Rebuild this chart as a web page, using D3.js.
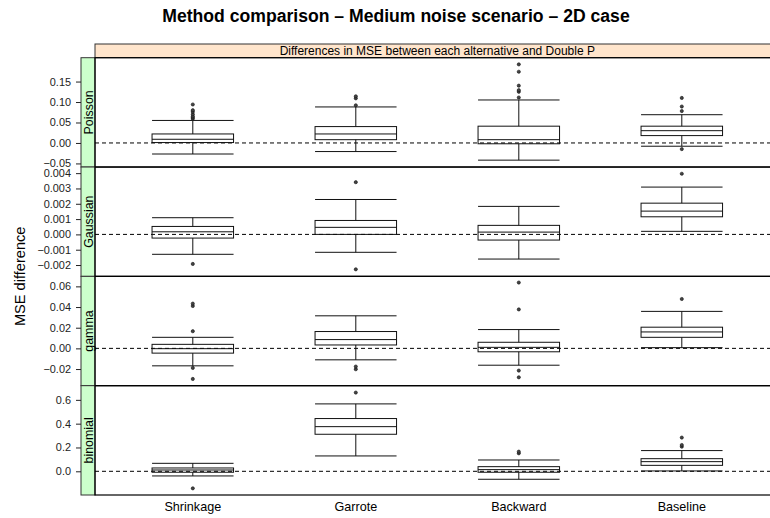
<!DOCTYPE html>
<html>
<head>
<meta charset="utf-8">
<script src="https://cdn.jsdelivr.net/npm/d3@7"></script>
<style>
  html, body { margin: 0; padding: 0; background: #fff; }
  svg { display: block; font-family: "Liberation Sans", Arial, Helvetica, sans-serif; }
</style>
</head>
<body>
<svg id="chart" width="770" height="518"></svg>
<script>
// ---------------- data ----------------
const methods = ["Shrinkage", "Garrote", "Backward", "Baseline"];
const families = ["Poisson", "Gaussian", "gamma", "binomial"];

// axis limits per panel
const yLimits = [
  [-0.0588, 0.2083],
  [-0.00274, 0.0044],
  [-0.0361, 0.0697],
  [-0.199, 0.719]
];
const yTicks = [
  [-0.05, 0.00, 0.05, 0.10, 0.15],
  [-0.002, -0.001, 0.000, 0.001, 0.002, 0.003, 0.004],
  [-0.02, 0.00, 0.02, 0.04, 0.06],
  [0.0, 0.2, 0.4, 0.6]
];
const yTickDecimals = [2, 3, 2, 1];

// box stats: [lower whisker, Q1, median, Q3, upper whisker]
const poissonStats = [
  [-0.027, 0.001, 0.009, 0.022, 0.055],
  [-0.021, 0.008, 0.022, 0.040, 0.088],
  [-0.042, -0.002, 0.008, 0.041, 0.105],
  [-0.008, 0.018, 0.030, 0.041, 0.069]
];
const poissonOutliers = [
  [0.059, 0.062, 0.065, 0.070, 0.076, 0.080, 0.094],
  [0.092, 0.109, 0.114],
  [0.111, 0.125, 0.129, 0.140, 0.174, 0.192],
  [-0.015, 0.078, 0.089, 0.110]
];
const gaussianStats = [
  [-0.0013, -0.00024, 0.00017, 0.00052, 0.00109],
  [-0.00117, 0.0, 0.00046, 0.00091, 0.00228],
  [-0.00161, -0.00037, 0.00015, 0.00059, 0.00183],
  [0.0002, 0.00115, 0.00152, 0.00204, 0.00309]
];
const gaussianOutliers = [
  [-0.00193],
  [-0.00228, 0.00341],
  [],
  [0.00396]
];
const gammaStats = [
  [-0.0169, -0.0046, -0.0003, 0.0039, 0.0107],
  [-0.0111, 0.0033, 0.0085, 0.0163, 0.0315],
  [-0.0163, -0.0033, 0.001, 0.0059, 0.0182],
  [0.0007, 0.0107, 0.0159, 0.0205, 0.0358]
];
const gammaOutliers = [
  [-0.0296, -0.0189, 0.0166, 0.041, 0.0433],
  [-0.0202, -0.0176],
  [-0.028, -0.0215, 0.0377, 0.0637],
  [0.0478]
];
const binomialStats = [
  [-0.039, -0.008, 0.011, 0.028, 0.067],
  [0.129, 0.311, 0.375, 0.443, 0.566],
  [-0.067, -0.008, 0.014, 0.039, 0.095],
  [0.003, 0.050, 0.081, 0.106, 0.174]
];
const binomialOutliers = [
  [-0.143],
  [0.661],
  [0.151, 0.165],
  [0.207, 0.221, 0.283]
];

const allStats = [poissonStats, gaussianStats, gammaStats, binomialStats];
const allOutliers = [poissonOutliers, gaussianOutliers, gammaOutliers, binomialOutliers];

const titleText = "Method comparison \u2013 Medium noise scenario \u2013 2D case";
const stripText = "Differences in MSE between each alternative and Double P";
const yLabel = "MSE difference";

// ---------------- layout ----------------
const svg = d3.select("#chart");
const panelLeft = 95, panelRight = 779.6;
const stripTop = 44, panelsTop = 57.7, panelsBottom = 495;
const panelH = (panelsBottom - panelsTop) / families.length;
const leftStripX = 81;
const font = "'Liberation Sans', Arial, Helvetica, sans-serif";

const x = d3.scaleLinear().domain([0.4, methods.length + 0.6]).range([panelLeft, panelRight]);
const boxHalf = (x(1.5) - x(1)) / 2; // box width 0.5 units

const fmtMinus = s => s.replace("-", "\u2212");

// title
svg.append("text")
  .attr("x", 396).attr("y", 22)
  .attr("text-anchor", "middle")
  .attr("font-weight", "bold")
  .attr("font-size", 17.6)
  .text(titleText);

// top strip
svg.append("rect")
  .attr("x", panelLeft).attr("y", stripTop)
  .attr("width", panelRight - panelLeft).attr("height", panelsTop - stripTop)
  .attr("fill", "#ffe5cc").attr("stroke", "#333").attr("stroke-width", 1);
svg.append("text")
  .attr("x", (panelLeft + panelRight) / 2).attr("y", stripTop + 11)
  .attr("text-anchor", "middle").attr("font-size", 12)
  .text(stripText);

families.forEach((fam, i) => {
  const top = panelsTop + i * panelH;
  const bottom = top + panelH;
  const y = d3.scaleLinear().domain(yLimits[i]).range([bottom, top]);
  const g = svg.append("g");

  // left strip
  g.append("rect")
    .attr("x", leftStripX).attr("y", top)
    .attr("width", panelLeft - leftStripX).attr("height", panelH)
    .attr("fill", "#ccffcc").attr("stroke", "#333").attr("stroke-width", 1);
  g.append("text")
    .attr("transform", `translate(${leftStripX + 11.5},${(top + bottom) / 2}) rotate(-90)`)
    .attr("text-anchor", "middle").attr("font-size", 12.4)
    .text(fam);

  // y axis (left of strip)
  const axis = d3.axisLeft(y)
    .tickValues(yTicks[i])
    .tickSize(5)
    .tickPadding(5)
    .tickFormat(d => fmtMinus(d.toFixed(yTickDecimals[i])));
  const ax = g.append("g")
    .attr("transform", `translate(${leftStripX},0)`)
    .call(axis);
  ax.select(".domain").remove();
  ax.selectAll("line").attr("stroke", "#222");
  ax.selectAll("text").attr("font-size", 10.9).attr("font-family", font).attr("fill", "#222");

  // panel border
  g.append("rect")
    .attr("x", panelLeft).attr("y", top)
    .attr("width", panelRight - panelLeft).attr("height", panelH)
    .attr("fill", "none").attr("stroke", "#000").attr("stroke-width", 1.2);

  // reference line at zero
  g.append("line")
    .attr("x1", panelLeft).attr("x2", panelRight)
    .attr("y1", y(0)).attr("y2", y(0))
    .attr("stroke", "#000").attr("stroke-width", 1)
    .attr("stroke-dasharray", "4,3");

  // boxes
  const stats = allStats[i];
  const outs = allOutliers[i];
  methods.forEach((m, j) => {
    const cx = x(j + 1);
    const [lo, q1, med, q3, hi] = stats[j];
    const bg = g.append("g").attr("stroke", "#111").attr("stroke-width", 1).attr("fill", "none");
    // whiskers
    bg.append("line").attr("x1", cx).attr("x2", cx).attr("y1", y(q3)).attr("y2", y(hi));
    bg.append("line").attr("x1", cx).attr("x2", cx).attr("y1", y(q1)).attr("y2", y(lo));
    // caps
    bg.append("line").attr("x1", cx - boxHalf).attr("x2", cx + boxHalf).attr("y1", y(hi)).attr("y2", y(hi));
    bg.append("line").attr("x1", cx - boxHalf).attr("x2", cx + boxHalf).attr("y1", y(lo)).attr("y2", y(lo));
    // box
    bg.append("rect")
      .attr("x", cx - boxHalf).attr("y", y(q3))
      .attr("width", 2 * boxHalf).attr("height", Math.max(0.5, y(q1) - y(q3)));
    // median
    bg.append("line").attr("x1", cx - boxHalf).attr("x2", cx + boxHalf).attr("y1", y(med)).attr("y2", y(med));
    // outliers
    g.selectAll(null).data(outs[j]).enter().append("circle")
      .attr("cx", cx).attr("cy", d => y(d)).attr("r", 1.6)
      .attr("fill", "#444").attr("stroke", "#111").attr("stroke-width", 0.6);
  });
});

// x axis labels
svg.append("g").selectAll("text").data(methods).enter().append("text")
  .attr("x", (d, j) => x(j + 1)).attr("y", 510.5)
  .attr("text-anchor", "middle").attr("font-size", 12.6)
  .text(d => d);

// y label
svg.append("text")
  .attr("transform", `translate(25,${(panelsTop + panelsBottom) / 2}) rotate(-90)`)
  .attr("text-anchor", "middle").attr("font-size", 14.6)
  .text(yLabel);
</script>
</body>
</html>
